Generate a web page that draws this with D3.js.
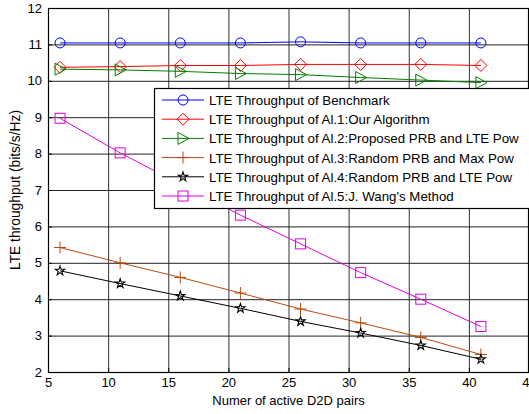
<!DOCTYPE html>
<html>
<head>
<meta charset="utf-8">
<script src="https://cdn.jsdelivr.net/npm/d3@7"></script>
<style>
  body { margin: 0; background: #fff; overflow: hidden; }
  svg { display: block; font-family: "Liberation Sans", Arial, sans-serif; }
</style>
</head>
<body>
<svg id="chart" width="529" height="414"></svg>
<script>
// data
var xVals = [6, 11, 16, 21, 26, 31, 36, 41];
var benchmark = [11.04, 11.04, 11.04, 11.04, 11.07, 11.04, 11.04, 11.04];
var alg1 = [10.37, 10.39, 10.42, 10.42, 10.45, 10.45, 10.45, 10.42];
var alg2 = [10.32, 10.30, 10.26, 10.20, 10.17, 10.09, 10.02, 9.95];
var alg3 = [5.42, 5.00, 4.60, 4.17, 3.73, 3.35, 2.95, 2.48];
var alg4 = [4.78, 4.43, 4.09, 3.75, 3.39, 3.07, 2.73, 2.35];
var alg5 = [8.97, 8.02, 7.16, 6.31, 5.52, 4.73, 4.00, 3.25];
var xTicks = [5, 10, 15, 20, 25, 30, 35, 40, 45];
var yTicks = [2, 3, 4, 5, 6, 7, 8, 9, 10, 11, 12];
var seriesNames = [
  'LTE Throughput of Benchmark',
  'LTE Throughput of Al.1:Our Algorithm',
  'LTE Throughput of Al.2:Proposed PRB and LTE Pow',
  'LTE Throughput of Al.3:Random PRB and Max Pow',
  'LTE Throughput of Al.4:Random PRB and LTE Pow',
  "LTE Throughput of Al.5:J. Wang's Method"
];

var series = [
  {name: seriesNames[0], values: benchmark, color: '#0000ff', marker: 'circle'},
  {name: seriesNames[1], values: alg1, color: '#ff0000', marker: 'diamond'},
  {name: seriesNames[2], values: alg2, color: '#008000', marker: 'triangle'},
  {name: seriesNames[3], values: alg3, color: '#b84a12', marker: 'plus'},
  {name: seriesNames[4], values: alg4, color: '#000000', marker: 'star'},
  {name: seriesNames[5], values: alg5, color: '#e000e0', marker: 'square'}
];

var svg = d3.select('#chart');
var plotLeft = 48, plotRight = 529, plotTop = 8, plotBottom = 372;

var xScale = d3.scaleLinear().domain([5, 45]).range([plotLeft, plotRight]);
var yScale = d3.scaleLinear().domain([2, 12]).range([plotBottom, plotTop]);

// grid
svg.append('g').selectAll('line')
  .data(xTicks.slice(1, -1)).enter().append('line')
  .attr('x1', d => xScale(d) + 0.5).attr('x2', d => xScale(d) + 0.5)
  .attr('y1', plotTop).attr('y2', plotBottom)
  .attr('stroke', '#333').attr('stroke-width', 1);
svg.append('g').selectAll('line')
  .data(yTicks.slice(1, -1)).enter().append('line')
  .attr('y1', d => yScale(d) + 0.5).attr('y2', d => yScale(d) + 0.5)
  .attr('x1', plotLeft).attr('x2', plotRight)
  .attr('stroke', '#222').attr('stroke-width', 1);

// axes
var xAxis = d3.axisBottom(xScale).tickValues(xTicks).tickSize(-4).tickPadding(6).tickFormat(d => d);
var yAxis = d3.axisLeft(yScale).tickValues(yTicks).tickSize(-4).tickPadding(6).tickFormat(d => d);

svg.append('g')
  .attr('transform', `translate(0,${plotBottom})`)
  .call(xAxis)
  .call(g => g.select('.domain').remove())
  .selectAll('text').style('font-size', '13px').attr('fill', '#000');

svg.append('g')
  .attr('transform', `translate(${plotLeft},0)`)
  .call(yAxis)
  .call(g => g.select('.domain').remove())
  .selectAll('text').style('font-size', '13px').attr('fill', '#000');

// box
svg.append('rect')
  .attr('x', plotLeft + 0.5).attr('y', plotTop + 0.5)
  .attr('width', plotRight - plotLeft - 1).attr('height', plotBottom - plotTop)
  .attr('fill', 'none').attr('stroke', '#000').attr('stroke-width', 1.2);

// labels
svg.append('text')
  .attr('x', xScale(25)).attr('y', 405)
  .attr('text-anchor', 'middle').style('font-size', '13px')
  .text('Numer of active D2D pairs');
svg.append('text')
  .attr('transform', `translate(20,${yScale(7)}) rotate(-90)`)
  .attr('text-anchor', 'middle').style('font-size', '13.8px')
  .text('LTE throughput (bits/s/Hz)');

// markers
function drawMarker(g, type, x, y, color) {
  if (type === 'circle') {
    g.append('circle').attr('cx', x).attr('cy', y).attr('r', 5)
      .attr('fill', 'none').attr('stroke', color);
  } else if (type === 'diamond') {
    g.append('path').attr('d', `M${x},${y-6}L${x+6},${y}L${x},${y+6}L${x-6},${y}Z`)
      .attr('fill', 'none').attr('stroke', color);
  } else if (type === 'triangle') {
    g.append('path').attr('d', `M${x-5},${y-6}L${x+6},${y}L${x-5},${y+6}Z`)
      .attr('fill', 'none').attr('stroke', color);
  } else if (type === 'plus') {
    g.append('path').attr('d', `M${x-6},${y}H${x+6}M${x},${y-6}V${y+6}`)
      .attr('fill', 'none').attr('stroke', color);
  } else if (type === 'star') {
    g.append('path')
      .attr('d', d3.symbol().type(d3.symbolStar).size(26)())
      .attr('transform', `translate(${x},${y})`)
      .attr('fill', 'none').attr('stroke', color).attr('stroke-width', 1.1);
  } else if (type === 'square') {
    g.append('rect').attr('x', x - 5).attr('y', y - 5).attr('width', 10).attr('height', 10)
      .attr('fill', 'none').attr('stroke', color);
  }
}

var line = d3.line().x(d => xScale(d.x)).y(d => yScale(d.y));

series.forEach(function(s) {
  var pts = xVals.map((x, i) => ({x: x, y: s.values[i]}));
  var g = svg.append('g');
  g.append('path').attr('d', line(pts))
    .attr('fill', 'none').attr('stroke', s.color).attr('stroke-width', 1);
  pts.forEach(p => drawMarker(g, s.marker, xScale(p.x), yScale(p.y), s.color));
});

// legend
var legendG = svg.append('g').attr('transform', 'translate(154,88)');
legendG.append('rect')
  .attr('x', 0.5).attr('y', 0.5).attr('width', 400).attr('height', 120)
  .attr('fill', '#fff').attr('stroke', '#000').attr('stroke-width', 1.2);
series.forEach(function(s, i) {
  var ly = 12 + i * 19.2;
  legendG.append('line')
    .attr('x1', 8).attr('x2', 50).attr('y1', ly).attr('y2', ly)
    .attr('stroke', s.color).attr('stroke-width', 1);
  drawMarker(legendG, s.marker, 29, ly, s.color);
  legendG.append('text')
    .attr('x', 55).attr('y', ly + 5)
    .style('font-size', '13.3px')
    .text(s.name);
});
</script>
</body>
</html>
